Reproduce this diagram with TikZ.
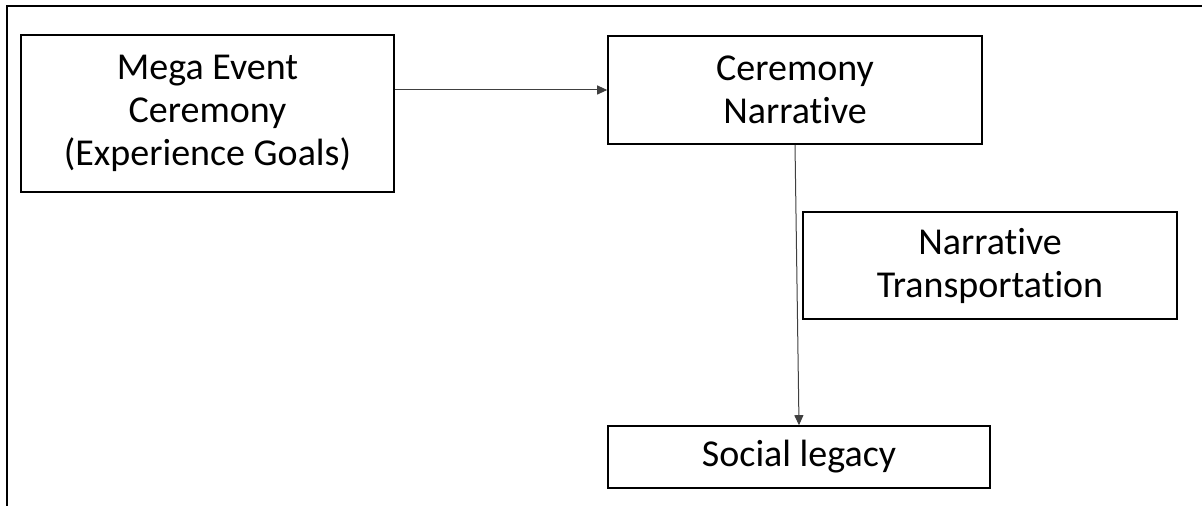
\documentclass[tikz,border=0pt]{standalone}
\usepackage{fontspec}
\setmainfont{Carlito}[Ligatures=NoCommon]
\usetikzlibrary{arrows.meta}
\tikzset{
  box/.style={draw, line width=0.8pt, inner sep=0pt, align=center,
    font=\fontsize{19}{21.5}\selectfont},
  link/.style={-{Triangle[length=5pt,width=4.5pt]}, line width=0.5pt, draw=black!75},
}
\begin{document}
\begin{tikzpicture}[x=0.5pt, y=-0.5pt]
  \useasboundingbox (0,0) rectangle (1202,506);
  % frame, top and left side only
  \draw[line width=1pt] (7,506) -- (7,6) -- (1202,6);
  \node[box, minimum width=186.5pt, minimum height=78.5pt] (mega) at (207.5,113.5) {Mega Event\\Ceremony\\(Experience Goals)};
  \node[box, minimum width=187pt, minimum height=54pt] (narr) at (795,90) {Ceremony\\Narrative};
  \node[box, minimum width=187pt, minimum height=53.5pt] (transp) at (990,265.5) {Narrative\\Transportation};
  \node[box, minimum width=191pt, minimum height=31pt] (legacy) at (799,457) {Social legacy};
  % connectors
  \draw[link] (narr.west -| mega.east) -- (narr.west);
  \draw[link] (narr.south) -- (legacy.north);
\end{tikzpicture}
\end{document}
